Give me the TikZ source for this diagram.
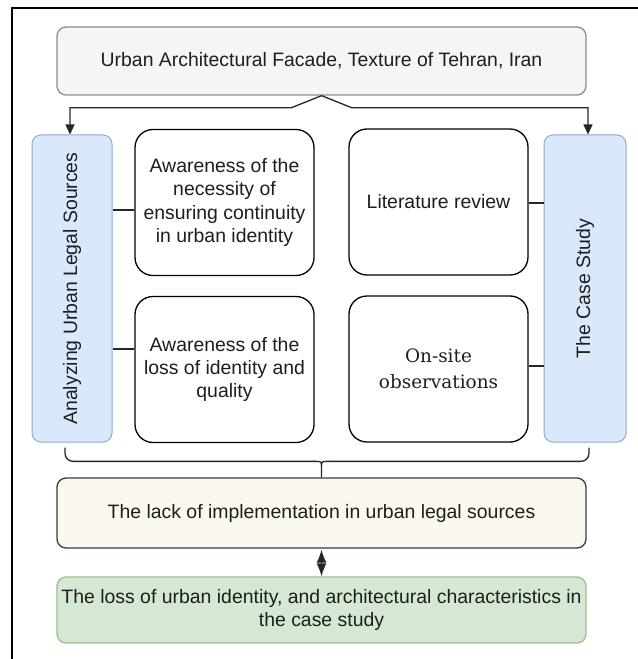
\documentclass[tikz,border=0pt]{standalone}
\usepackage{fontspec}
\setmainfont{Liberation Sans}
\newfontfamily\slabfont{DejaVu Serif}
\usetikzlibrary{arrows.meta,calc}
\definecolor{txt}{HTML}{1E1E1E}
\definecolor{grayfill}{HTML}{F5F5F5}
\definecolor{graydraw}{HTML}{8C8C8C}
\definecolor{bluefill}{HTML}{DAE8FC}
\definecolor{bluedraw}{HTML}{8FA9D6}
\definecolor{creamfill}{HTML}{FBF8F0}
\definecolor{creamdraw}{HTML}{3A3A3A}
\definecolor{greenfill}{HTML}{D5E8D4}
\definecolor{greendraw}{HTML}{9DBF8A}
\tikzset{
  base/.style={font=\fontsize{19.5}{23.5}\selectfont, text=txt, align=center, inner sep=0pt},
  widebox/.style={base, rounded corners=9bp, line width=1.3bp, minimum width=529bp},
  sidebox/.style={base, draw=bluedraw, fill=bluefill, rounded corners=9bp, line width=1bp, minimum height=307bp},
  whitebox/.style={base, draw=black, fill=white, rounded corners=18bp, line width=1.3bp, minimum width=179bp, minimum height=146bp},
  conn/.style={line width=1.3bp, draw=black!85},
  arr/.style={conn, -{Triangle[length=10bp,width=9bp]}},
}
\begin{document}
\begin{tikzpicture}[x=1bp,y=-1bp]
\useasboundingbox (0,0) rectangle (638,659);
\draw[line width=1.4bp] (638,8) -- (12,8) -- (12,659);

\node[widebox, draw=graydraw, fill=grayfill, minimum height=68bp] (top) at (321.5,61) {Urban Architectural Facade, Texture of Tehran, Iran};

\node[sidebox, minimum width=80bp] (lblue) at (72,288.5) {\rotatebox{90}{Analyzing Urban Legal Sources}};
\node[sidebox, minimum width=82bp] (rblue) at (585,288.5) {\rotatebox{90}{The Case Study}};

\node[whitebox] (lt) at (224.5,202.5) {Awareness of the\\necessity of\\ensuring continuity\\in urban identity};
\node[whitebox] (lb) at (224.5,369.5) {Awareness of the\\loss of identity and\\quality};
\node[whitebox] (rt) at (438.5,202) {Literature review};
\node[whitebox, font=\slabfont\fontsize{18.5}{26}\selectfont] (rb) at (438.5,369) {On-site\\observations};

\node[widebox, draw=creamdraw, fill=creamfill, minimum height=70bp] (mid) at (321.5,513) {The lack of implementation in urban legal sources};

\node[widebox, draw=greendraw, fill=greenfill, minimum height=66bp] (bot) at (321.5,610) {};
\node[base] (bottxt) at (bot.center) {The loss of urban identity, and architectural characteristics in\\the case study};

% top split connector
\draw[arr] (top.south) -- ++(-30,12) -| ([xshift=-2bp]lblue.north);
\draw[arr] (top.south) -- ++(30,12) -| ([xshift=3bp]rblue.north);

% side connectors
\coordinate (c1) at ([yshift=-7.5bp]lt.west);
\coordinate (c2) at ([yshift=20.5bp]lb.west);
\coordinate (c3) at ([yshift=-1bp]rt.east);
\coordinate (c4) at ([yshift=3bp]rb.east);
\draw[conn] (c1) -- (c1 -| lblue.east);
\draw[conn] (c2) -- (c2 -| lblue.east);
\draw[conn] (c3) -- (c3 -| rblue.west);
\draw[conn] (c4) -- (c4 -| rblue.west);

% brace
\coordinate (braceL) at ([xshift=-7bp,yshift=-5bp]lblue.south);
\coordinate (braceR) at ([xshift=4bp,yshift=-5bp]rblue.south);
\coordinate (bm) at ([yshift=16bp]mid.north);
\draw[conn, rounded corners=8bp] (braceL) |- ([xshift=-7bp]bm);
\draw[conn, rounded corners=8bp] (braceR) |- ([xshift=7bp]bm);
\draw[conn] ([xshift=-7.5bp]bm) .. controls (bm) .. ([yshift=-5bp]bm) -- (mid.north);
\draw[conn] ([xshift=7.5bp]bm) .. controls (bm) .. ([yshift=-5bp]bm);

% diamond connector
\draw[conn, {Latex[length=13bp,width=10bp]}-{Latex[length=13bp,width=10bp]}] ([yshift=-1bp]mid.south) -- (bot.north);
\end{tikzpicture}
\end{document}
